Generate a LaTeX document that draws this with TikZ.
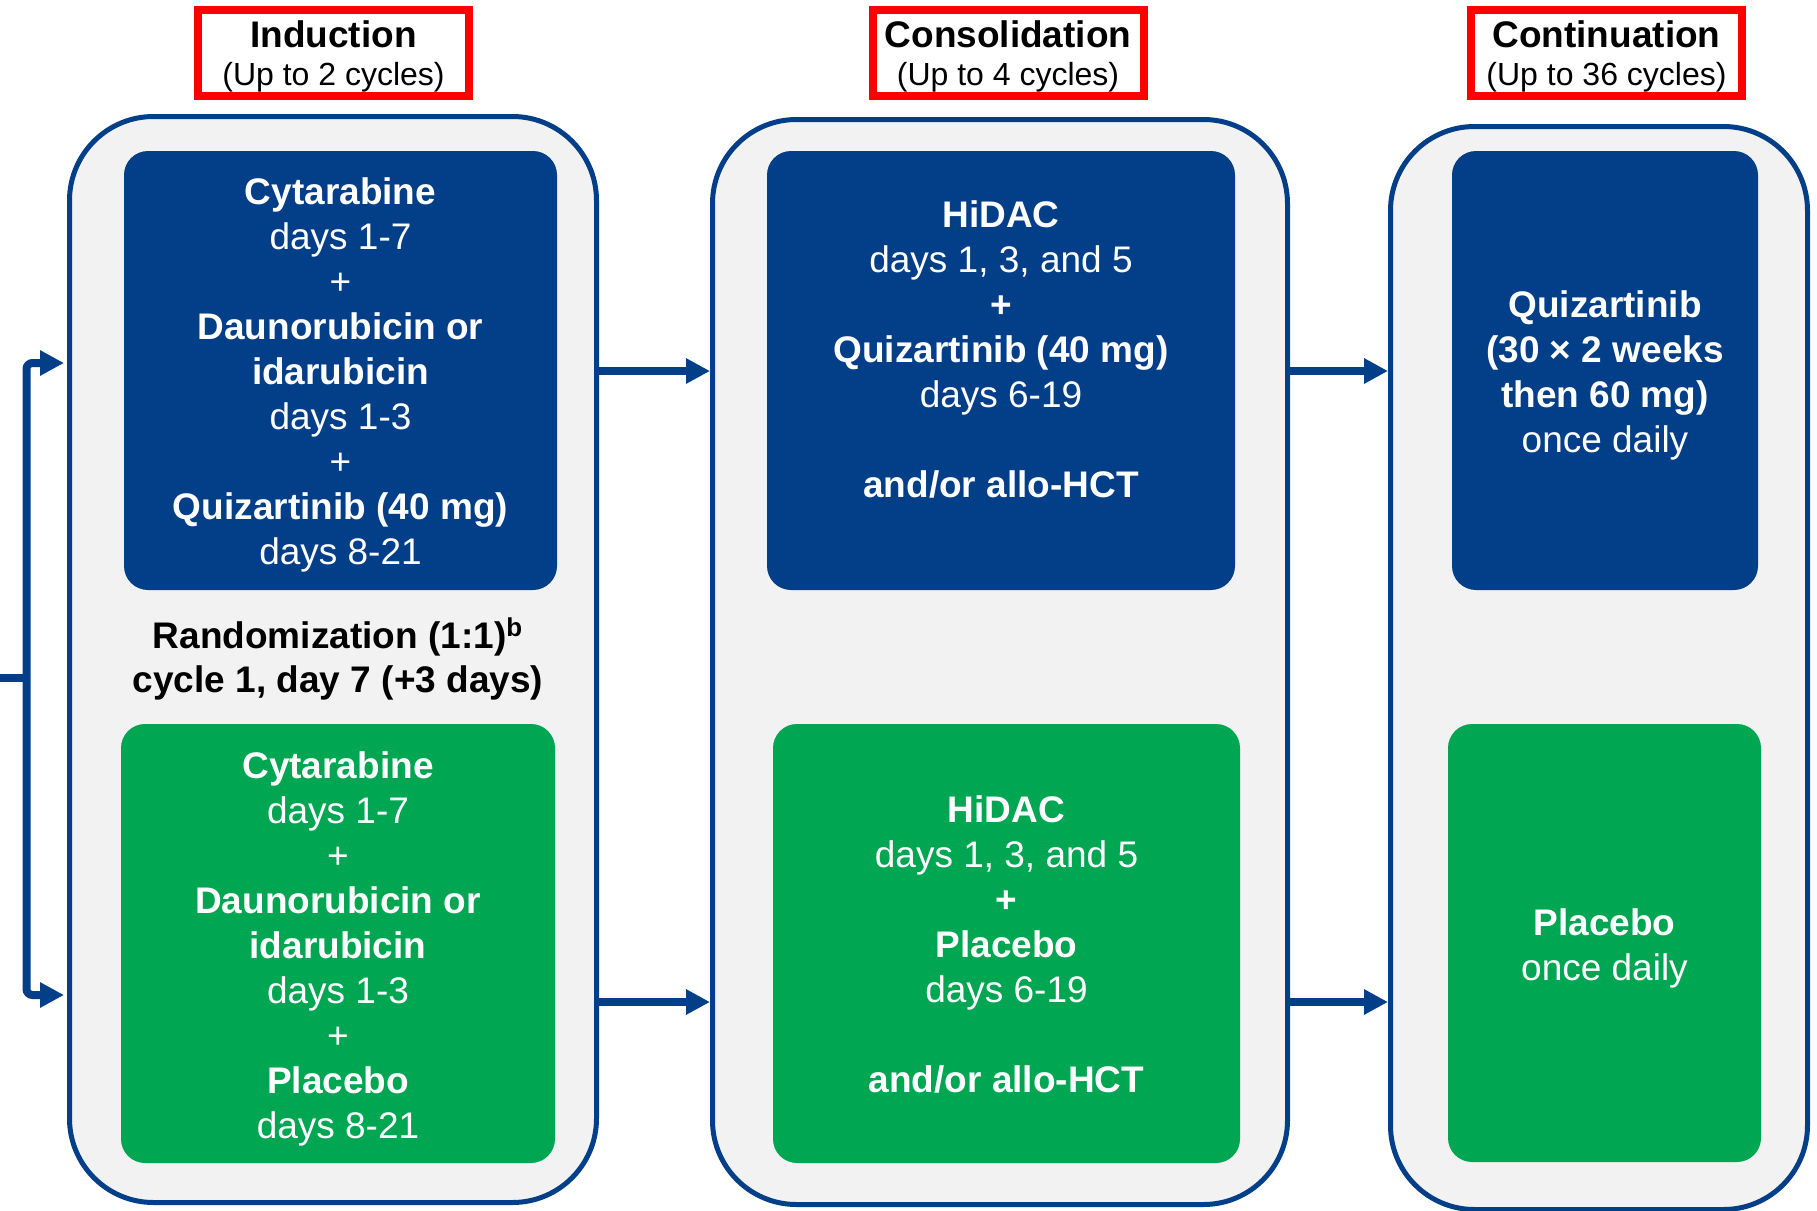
\documentclass[tikz,border=0pt]{standalone}
\usepackage{fontspec}
\setmainfont{Liberation Sans}
\usetikzlibrary{arrows.meta}
\definecolor{tblue}{RGB}{3,63,136}
\definecolor{tgreen}{RGB}{0,166,81}
\definecolor{tpanel}{RGB}{242,242,242}
\definecolor{tred}{RGB}{255,0,0}
\tikzset{
  panel/.style={draw=tblue, line width=2.5pt, fill=tpanel, rounded corners=42pt, inner sep=0pt},
  bbox/.style={fill=tblue, rounded corners=12pt, inner sep=0pt},
  gbox/.style={fill=tgreen, rounded corners=12pt, inner sep=0pt},
  btxt/.style={text=white, align=center, inner sep=0pt, font=\fontsize{18.5pt}{22.5pt}\selectfont},
  hdr/.style={draw=tred, line width=4pt, fill=white, inner sep=0pt,
    minimum width=135.5pt, minimum height=43pt},
  htxt/.style={align=center, inner sep=0pt, font=\fontsize{16pt}{20pt}\selectfont},
  arr/.style={draw=tblue, line width=4pt, -{Triangle[length=12pt,width=12pt]}},
  ln/.style={draw=tblue, line width=4pt},
}
\newcommand{\hb}[1]{{\fontsize{18.5pt}{20pt}\selectfont\bfseries #1}}
\begin{document}
\begin{tikzpicture}[x=0.5pt,y=-0.5pt]
\useasboundingbox (0,0) rectangle (1817,1211);
% panels
\node[panel, minimum width=263.5pt, minimum height=543pt] (p1) at (333,659.5) {};
\node[panel, minimum width=287.5pt, minimum height=542.5pt] (p2) at (1000,662) {};
\node[panel, minimum width=208.5pt, minimum height=541.5pt] (p3) at (1599,668) {};
% headers
\node[hdr] (h1) at (333.5,53) {};
\node[hdr] (h2) at (1008,53) {};
\node[hdr] (h3) at (1606.5,53) {};
\node[htxt] (h1t) at ([yshift=-1.7pt]h1.center) {\hb{Induction}\\[-1.3pt](Up to 2 cycles)};
\node[htxt] (h2t) at ([yshift=-1.7pt]h2.center) {\hb{Consolidation}\\[-1.3pt](Up to 4 cycles)};
\node[htxt] (h3t) at ([yshift=-1.7pt]h3.center) {\hb{Continuation}\\[-1.3pt](Up to 36 cycles)};
% boxes
\node[bbox, minimum width=216.5pt, minimum height=219.5pt] (b1) at (340.5,370.5) {};
\node[gbox, minimum width=217pt, minimum height=219.5pt] (g1) at (338,943.5) {};
\node[bbox, minimum width=234pt, minimum height=219.5pt] (b2) at (1001,370.5) {};
\node[gbox, minimum width=233.5pt, minimum height=219.5pt] (g2) at (1006.5,943.5) {};
\node[bbox, minimum width=153pt, minimum height=219.5pt] (b3) at (1605,370.5) {};
\node[gbox, minimum width=156.5pt, minimum height=219pt] (g3) at (1604.5,943) {};
% box texts
\node[btxt] (b1t) at ([yshift=-2.3pt]b1.center)
  {\textbf{Cytarabine}\\days 1-7\\+\\\textbf{Daunorubicin or}\\\textbf{idarubicin}\\days 1-3\\+\\\textbf{Quizartinib (40 mg)}\\days 8-21};
\node[btxt] (g1t) at ([yshift=-2.9pt]g1.center)
  {\textbf{Cytarabine}\\days 1-7\\+\\\textbf{Daunorubicin or}\\\textbf{idarubicin}\\days 1-3\\+\\\textbf{Placebo}\\days 8-21};
\node[btxt] (b2t) at ([yshift=-4pt]b2.center)
  {\textbf{HiDAC}\\days 1, 3, and 5\\\textbf{+}\\\textbf{Quizartinib (40 mg)}\\days 6-19\\\strut\\\textbf{and/or allo-HCT}\\\strut};
\node[btxt] (g2t) at ([yshift=-0.5pt]g2.center)
  {\textbf{HiDAC}\\days 1, 3, and 5\\\textbf{+}\\\textbf{Placebo}\\days 6-19\\\strut\\\textbf{and/or allo-HCT}};
\node[btxt] (b3t) at ([yshift=-2.3pt]b3.center)
  {\textbf{Quizartinib}\\\textbf{(30 × 2 weeks}\\\textbf{then 60 mg)}\\once daily};
\node[btxt] (g3t) at ([yshift=-2.9pt]g3.center)
  {\textbf{Placebo}\\once daily};
% randomization
\node[align=center, inner sep=0pt, font=\fontsize{18.5pt}{22pt}\selectfont\bfseries] (rnd) at (338,659)
  {Randomization (1:1)\textsuperscript{b}\\cycle 1, day 7 (+3 days)};
% connectors
\coordinate (ya) at (0,371);
\coordinate (yb) at (0,1002);
\draw[arr] (p1.east |- ya) -- (p2.west |- ya);
\draw[arr] (p1.east |- yb) -- (p2.west |- yb);
\draw[arr] (p2.east |- ya) -- (p3.west |- ya);
\draw[arr] (p2.east |- yb) -- (p3.west |- yb);
% left bracket
\coordinate (src) at (0,678);
\coordinate (jn) at (26.5,678);
\coordinate (t1) at (0,363);
\coordinate (t2) at (0,995);
\draw[ln] (src) -- (jn);
\draw[arr, rounded corners=3pt, shorten >=1.5pt] (jn) |- (p1.west |- t1);
\draw[arr, rounded corners=3pt, shorten >=1.5pt] (jn) |- (p1.west |- t2);
\end{tikzpicture}
\end{document}
